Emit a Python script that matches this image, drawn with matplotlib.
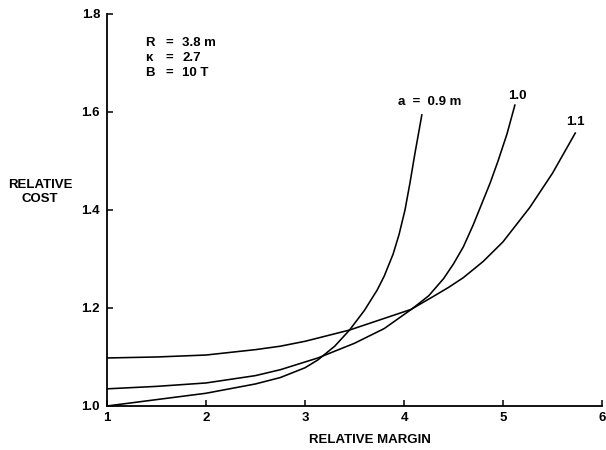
import matplotlib
matplotlib.use("Agg")
import matplotlib.pyplot as plt

# values
margin_09 = [1.0, 1.5, 2.0, 2.5, 2.75, 3.0, 3.13, 3.3, 3.45, 3.6, 3.73, 3.8, 3.89, 3.95,
             4.01, 4.06, 4.11, 4.15, 4.18]
cost_09 = [1.0, 1.013, 1.026, 1.045, 1.058, 1.078, 1.094, 1.122, 1.155, 1.195, 1.237, 1.265, 1.31, 1.35,
           1.40, 1.455, 1.515, 1.56, 1.594]

margin_10 = [1.0, 1.5, 2.0, 2.5, 2.75, 3.13, 3.5, 3.8, 4.08, 4.25, 4.4, 4.5, 4.6, 4.7,
             4.8, 4.87, 4.95, 5.04, 5.12]
cost_10 = [1.035, 1.040, 1.047, 1.062, 1.074, 1.098, 1.128, 1.158, 1.198, 1.225, 1.26, 1.29, 1.325, 1.37,
           1.42, 1.455, 1.50, 1.555, 1.614]

margin_11 = [1.0, 1.5, 2.0, 2.5, 2.75, 3.0, 3.45, 4.07, 4.3, 4.45, 4.6, 4.8, 5.0, 5.27, 5.5, 5.73]
cost_11 = [1.098, 1.100, 1.104, 1.115, 1.122, 1.132, 1.155, 1.197, 1.224, 1.242, 1.262, 1.295, 1.335,
           1.405, 1.475, 1.557]

curve_labels = ["a  =  0.9 m", "1.0", "1.1"]
xticks = [1, 2, 3, 4, 5, 6]
yticks = [1.0, 1.2, 1.4, 1.6, 1.8]

plt.rcParams['font.family'] = ['Liberation Sans', 'DejaVu Sans']
plt.rcParams['font.weight'] = 'bold'
FS = 9.5

fig = plt.figure(figsize=(6.06, 4.5), dpi=100)
ax = fig.add_axes([0.1766, 0.0978, 0.8168, 0.8712])

for xs, ys in [(margin_09, cost_09), (margin_10, cost_10), (margin_11, cost_11)]:
    ax.plot(xs, ys, color='black', lw=1.15, solid_joinstyle='round')

#curve labels sit just above each curve end
ax.text(4.26, 1.62, curve_labels[0], ha='center', va='center', fontsize=FS, fontweight='bold')
ax.text(5.15, 1.633, curve_labels[1], ha='center', va='center', fontsize=FS, fontweight='bold')
ax.text(5.73, 1.58, curve_labels[2], ha='center', va='center', fontsize=FS, fontweight='bold')

#parameter block
params = [("R", "3.8 m"), ("\u03ba", "2.7"), ("B", "10 T")]
for i, (name, val) in enumerate(params):
    yy = 1.741 - i * 0.031
    ax.text(1.38, yy, name, ha='left', va='center', fontsize=FS, fontweight='bold')
    ax.text(1.59, yy, "=", ha='left', va='center', fontsize=FS, fontweight='bold')
    ax.text(1.76, yy, val, ha='left', va='center', fontsize=FS, fontweight='bold')

ax.set_xlim(1, 6)
ax.set_ylim(1.0, 1.8)
ax.set_xticks(xticks)
ax.set_xticklabels([str(t) for t in xticks])
ax.set_yticks(yticks)
ax.set_yticklabels([f"{t:.1f}" for t in yticks])

for side in ['top', 'right']:
    ax.spines[side].set_visible(False)
for side in ['left', 'bottom']:
    ax.spines[side].set_linewidth(1.3)

ax.tick_params(direction='in', length=4, width=1.1, labelsize=FS)
ax.tick_params(axis='x', pad=4)
ax.tick_params(axis='y', pad=5)
for lab in ax.get_xticklabels() + ax.get_yticklabels():
    lab.set_fontweight('bold')

ax.text(0.531, -0.087, "RELATIVE MARGIN", transform=ax.transAxes, ha='center', va='center',
        fontsize=FS, fontweight='bold')
ax.text(-0.135, 0.546, "RELATIVE\nCOST", transform=ax.transAxes, ha='center', va='center',
        fontsize=FS, fontweight='bold', linespacing=1.3)

fig.savefig("out.png", dpi=100)
